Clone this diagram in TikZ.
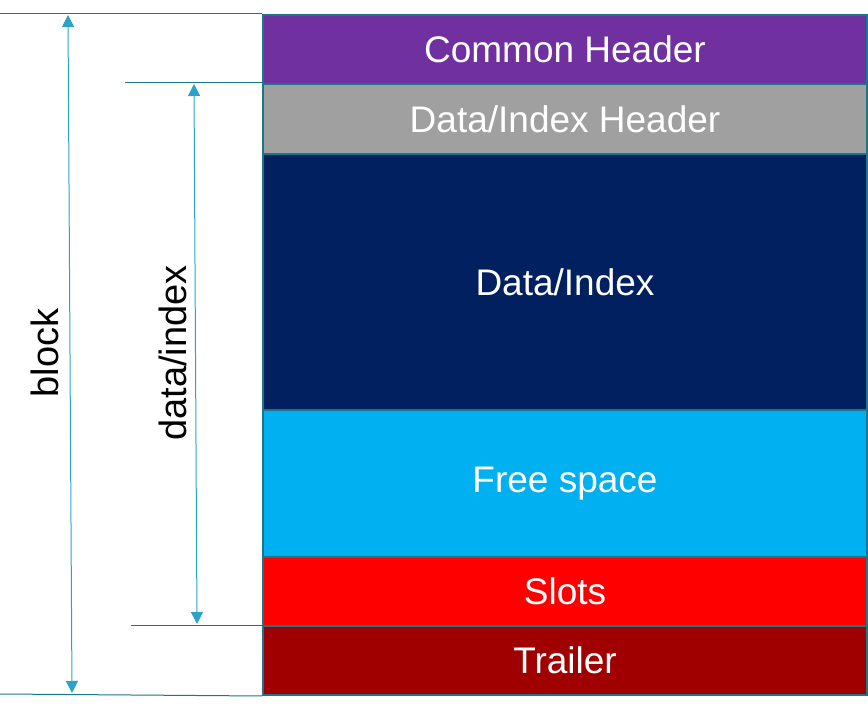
\documentclass[tikz,border=0pt]{standalone}
\usepackage{fontspec}
\setmainfont{Liberation Sans}
\usetikzlibrary{arrows.meta}
\definecolor{outl}{HTML}{1B7689}
\definecolor{arr}{HTML}{2BA3C9}
\definecolor{cpurple}{HTML}{7030A0}
\definecolor{cgray}{HTML}{A0A0A0}
\definecolor{cnavy}{HTML}{002060}
\definecolor{cfree}{HTML}{00B0F0}
\definecolor{cred}{HTML}{FF0000}
\definecolor{cdark}{HTML}{A00000}
\begin{document}
\begin{tikzpicture}[x=1pt,y=-1pt,
  blk/.style={draw=outl,line width=2pt,minimum width=604pt,inner sep=0pt,anchor=north west,text=white,font=\fontsize{37}{44}\selectfont},
  guide/.style={draw=outl,line width=1pt},
  dim/.style={draw=arr,line width=1pt,{Triangle[width=12pt,length=12pt]}-{Triangle[width=12pt,length=12pt]}},
  lab/.style={font=\fontsize{38}{44}\selectfont,rotate=90,text=black}]
\useasboundingbox (0,0) rectangle (868,708);
\node[blk,fill=cpurple,minimum height=69pt] (ch) at (262,14) {Common Header};
\node[blk,fill=cgray,minimum height=70pt] (dh) at (262,83) {Data/Index Header};
\node[blk,fill=cnavy,minimum height=256pt] (di) at (262,153) {Data/Index};
\node[blk,fill=cfree,minimum height=147pt] (fs) at (262,409) {Free space};
\node[blk,fill=cred,minimum height=69pt] (sl) at (262,556) {Slots};
\node[blk,fill=cdark,minimum height=69pt] (tr) at (262,625) {Trailer};
\coordinate (t0) at (0,14);
\coordinate (t1) at (125,83);
\coordinate (b1) at (131,625);
\coordinate (b0) at (0,694);
\draw[guide] (t0) -- (ch.north west);
\draw[guide] (t1) -- (dh.north west);
\draw[guide] (b1) -- (tr.north west);
\draw[guide] (b0) -- (tr.south west);
\coordinate (a0) at (68,15);
\coordinate (a1) at (72,693);
\coordinate (c0) at (194,84);
\coordinate (c1) at (197,624);
\draw[dim] (a0) -- (a1);
\draw[dim] (c0) -- (c1);
\node[lab] (lb) at (45,353) {block};
\node[lab] (ld) at (173,353) {data/index};
\end{tikzpicture}
\end{document}
